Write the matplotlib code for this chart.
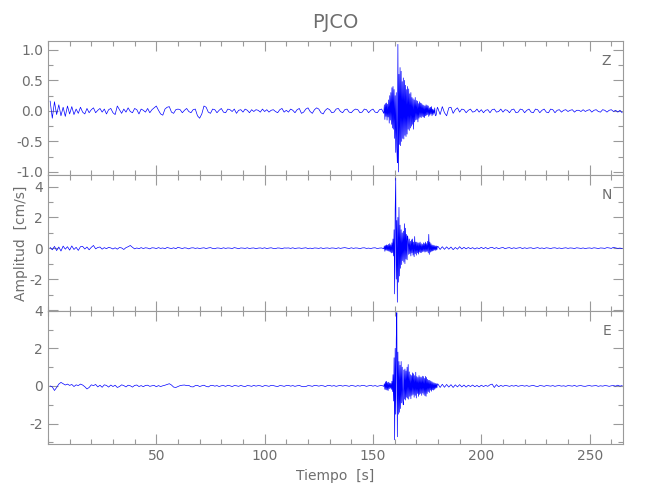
import numpy as np
import matplotlib
matplotlib.use('Agg')
import matplotlib.pyplot as plt
from matplotlib.ticker import MultipleLocator, FixedLocator, FuncFormatter

# amplitudes in units of 0.01 cm/s
# pre: 1 s steps from t=1 ; burst: 0.25 s steps from t=155.25 ; post: 1 s steps from t=180
z_pre = [16, -12, 15, -6, 10, -8, 6, -9, 8, -5,
         7, -6, 3, -4, 6, -2, -5, 4, -3, 2,
         5, -3, 1, 4, -2, 3, -5, 2, 4, -3,
         -6, 8, 2, -4, 3, -2, 5, -1, -3, 4,
         2, -5, 3, 1, -2, 4, -3, 2, 5, 8,
         1, -5, -7, 3, 6, 7, -2, -4, 2, 3,
         2, -3, 1, 4, -1, -3, 2, 3, -8, -12,
         -5, 8, 6, -2, -4, 3, 2, -3, 1, 4,
         -2, -3, 3, 2, -1, 3, -4, 1, 2, -2,
         3, 1, -3, 2, -1, 2, 1, -2, 3, -1,
         2, -2, 1, 2, -1, -3, 2, 4, -2, 1,
         -2, 3, 1, -3, 2, 4, -4, -2, 3, 5,
         -1, -4, 2, 5, 3, -3, -5, 1, 4, 2,
         -3, -2, 3, 4, -1, -3, 2, 3, -2, -3,
         1, 3, 2, -3, -2, 3, 2, -3, 1, 3,
         -2, -3, 2, 3, -4]
z_burst = [10, -14, 12, -9, 13, -15, 11, -10,
           18, -20, 25, -15, 30, -22, 38, -28,
           40, -30, 35, -45,
           25, -68, 30, -60,
           -85, 109, -100, 60,
           -55, 71, -57, 65,
           -50, 48, -45, 54,
           -46, 50, -40, 42,
           -42, 35, -38, 40,
           -30, 36, -32, 28,
           -28, 30, -25, 22,
           -22, 20, -30, 18,
           -18, 22, -15, 17,
           -14, 16, -18, 12,
           -12, 15, -10, 13,
           -11, 12, -9, 10,
           -10, 9, -11, 8,
           -8, 10, -7, 9,
           -6, 8, -9, 5,
           -7, 6, -5, 7,
           -8, 3, -6, 2,
           -4, 5, -7, -8,
           -5, 2, 6]
z_post = [4, -6, 7, -3, -8, 5, 6, -4, 2, 5,
          -2, 3, 2, -3, 1, 3, -2, -1, 3, -2,
          2, -3, 1, 2, -3, 2, 3, -2, -1, 3,
          -2, 2, 1, -3, 2, 3, -3, -2, 3, 2,
          -3, 1, 3, -2, -3, 3, 2, -3, 1, 3,
          -2, -3, 3, 2, -3, 1, 2, -2, 1, 2,
          -1, 1, 2, -2, 1, 1, -1, 2, -1, 1,
          2, -2, 1, 2, -1, -2, 2, 1, -2, 1,
          2, -1, 1, -2, 1, -3]

n_pre = [5, -10, 12, -15, 8, -18, 14, -6, 10, -12,
         15, -8, 6, -14, 10, 12, -5, 8, -10, 6,
         18, -4, 5, 8, -6, 4, -3, 6, 2, -5,
         3, -6, 5, 2, -8, 4, 10, 18, 6, -4,
         2, -3, 4, -2, 3, 1, -4, 3, 2, -2,
         4, -1, 2, -3, 5, 1, -2, 3, -3, 6,
         2, -2, 3, 1, -4, 2, 3, -1, 2, -2,
         1, 3, -2, 2, 4, -1, -3, 2, 1, -2,
         3, -1, 2, 1, -2, 4, 1, -3, 2, 1,
         -1, 3, -2, 1, 2, -3, 1, 2, -1, 3,
         -2, 1, 3, -1, -2, 2, 1, -3, 2, 1,
         2, -1, 3, -2, 1, 2, -1, 1, 3, -2,
         1, -2, 2, 1, -1, 3, -2, 1, 2, -1,
         2, 1, -2, 3, -1, 2, 4, 1, -2, 3,
         -1, 2, 1, -3, 2, 3, -1, 1, -2, 2,
         3, -2, 1, 2, -3]
n_burst = [15, -20, 18, -12, 22, -15, 20, -18,
           25, -20, 30, -25, 22, -30, 35, -28,
           60, -50, 120, -296,
           250, 455, -200, 180,
           -350, 200, -220, 265,
           -180, 150, -130, 120,
           -106, 100, -80, 110,
           -90, 159, -100, 130,
           -70, 90, -75, 80,
           50, -40, 60, -35,
           45, -50, 55, -30,
           60, -45, 40, -55,
           76, -35, 40, -45,
           40, -30, 35, -38,
           35, -25, 40, -28,
           30, -28, 25, -22,
           35, -20, 30, -25,
           40, -22, 30, -20,
           45, -30, 90, -40,
           40, -25, 30, -20,
           22, -18, 20, -15,
           18, -12, 15, -14,
           15, -10, 12]
n_post = [12, -8, 10, -7, 9, -6, 8, -9, 5, -6,
          10, -5, 6, -4, 5, -3, 4, -5, 3, -3,
          6, -3, 5, -4, 3, 6, -2, 4, -3, 2,
          5, -3, 2, 4, -2, 3, -1, 2, 4, -2,
          3, -1, 2, 3, -2, 1, 4, -1, 2, -2,
          3, 1, -2, 2, 3, -1, 2, -2, 1, 3,
          -1, 2, 1, -2, 3, 1, -1, 2, -2, 1,
          2, -1, 3, 1, -2, 2, 1, -1, 4, 2,
          -1, 6, 2, -1, 1, -2]

e_pre = [0, -5, -24, -8, 10, 19, 12, 5, 10, 3,
         8, -3, 6, 2, 10, 5, -4, -16, -8, 6,
         2, 8, -5, 4, -7, 6, 3, -6, 5, -3,
         4, -8, -3, 6, 2, -5, 4, 1, -6, 3,
         5, -3, 2, -4, 3, 4, -2, 1, 3, -4,
         2, -3, 1, 4, 8, 12, 5, -6, -8, -3,
         2, 4, 5, 2, 3, -4, -5, 2, 3, -3,
         1, 4, -2, -5, 2, 3, -1, 2, -3, 1,
         2, -2, 3, 1, -3, 2, 1, -2, 3, -1,
         -3, 2, 1, -2, 3, -1, 2, 1, -3, 2,
         1, -2, 3, 2, -1, -3, 2, 1, -2, 2,
         3, -1, 2, -2, 1, 3, -2, -4, -3, 2,
         1, -2, 3, 2, -1, 2, 1, -3, 2, 3,
         -1, 2, -2, 1, 3, -1, 2, 1, -2, 3,
         1, -2, 2, -1, 3, 2, -2, 1, 3, -1,
         2, -2, 1, 3, -2]
e_burst = [12, -18, 22, -20, 25, -22, 18, -24,
           20, -15, 16, -12, 14, -18, 25, -30,
           60, -80, 150, -286,
           200, -150, 250, 390,
           -270, 180, -150, 130,
           -140, 110, -120, 130,
           -90, 100, -80, -100,
           85, -70, 90, -75,
           80, -60, 100, -65,
           114, -70, 75, -55,
           60, -68, 55, -50,
           70, -45, 65, -60,
           55, -50, 73, -64,
           50, -40, 45, -55,
           55, -45, 48, -40,
           45, -50, 52, -38,
           50, -45, 40, -52,
           51, -55, 45, -40,
           35, -30, 30, -35,
           30, -22, 25, -28,
           22, -20, 18, -22,
           16, -18, 14, -12,
           12, -10, 11]
e_post = [10, -8, 9, -7, 8, -6, 7, -8, 6, -5,
          7, -5, 5, -6, 4, -3, 5, -4, 3, -5,
          4, -3, 3, -2, 6, 10, -8, 7, -4, 3,
          -2, 3, 1, -2, 2, -1, 3, -2, 1, 2,
          -1, 2, -2, 1, 3, -1, -3, 2, 1, -2,
          2, 1, -1, 2, -2, 1, 2, -1, 1, -2,
          2, 1, -1, 3, -2, 1, 2, -1, -2, 1,
          2, -1, 1, 2, -2, 1, -1, 2, 1, -2,
          1, 2, -1, 4, -1, 2]

components = ['Z', 'N', 'E']
ylims = [(-1.05, 1.15), (-4.05, 4.75), (-3.1, 4.0)]
yticks = [[-1.0, -0.5, 0.0, 0.5, 1.0], [-4, -2, 0, 2, 4], [-2, 0, 2, 4]]
yminor = [0.25, 1, 1]
xticks = [50, 100, 150, 200, 250]


def build(pre, burst, post):
    t = np.concatenate([np.arange(1, len(pre) + 1),
                        155 + 0.25 * np.arange(1, len(burst) + 1),
                        180 + np.arange(len(post))])
    v = np.array(pre + burst + post) * 0.01
    return t, v


text_color = '#6e6e6e'
axis_color = '#9a9a9a'

traces = [build(z_pre, z_burst, z_post),
          build(n_pre, n_burst, n_post),
          build(e_pre, e_burst, e_post)]

fig = plt.figure(figsize=(6.5, 5), dpi=100)
left, width = 0.0738, 0.885
bottoms = [0.65, 0.3786, 0.1114]
heights = [0.2686, 0.2714, 0.2672]

axes = []
for i, comp in enumerate(components):
    ax = fig.add_axes([left, bottoms[i], width, heights[i]])
    t, v = traces[i]
    ax.plot(t, v, color='#0000ff', linewidth=0.5)
    ax.set_xlim(0, 265.5)
    ax.set_ylim(*ylims[i])
    ax.xaxis.set_major_locator(FixedLocator(xticks))
    ax.xaxis.set_minor_locator(MultipleLocator(10))
    ax.yaxis.set_major_locator(FixedLocator(yticks[i]))
    ax.yaxis.set_minor_locator(MultipleLocator(yminor[i]))
    ax.tick_params(which='both', direction='in', top=True, right=True,
                   color=axis_color, labelcolor=text_color, labelsize=10, width=0.8)
    ax.tick_params(which='major', length=7)
    ax.tick_params(which='minor', length=3.5)
    for s in ax.spines.values():
        s.set_color(axis_color)
        s.set_linewidth(0.8)
    if i == 0:
        ax.yaxis.set_major_formatter(FuncFormatter(lambda y, p: f'{y:.1f}'))
    elif i == 1:
        # bottom label of the middle panel is hidden under the "4" of the lower one
        ax.yaxis.set_major_formatter(FuncFormatter(lambda y, p: '' if y < -3 else f'{y:.0f}'))
    else:
        ax.yaxis.set_major_formatter(FuncFormatter(lambda y, p: f'{y:.0f}'))
    if i < 2:
        ax.tick_params(labelbottom=False)
    ax.text(0.971, 0.85, comp, transform=ax.transAxes, ha='center', va='center',
            color=text_color, fontsize=10)
    axes.append(ax)

axes[0].set_title('PJCO', color=text_color, fontsize=14, pad=9)
axes[1].set_ylabel('Amplitud  [cm/s]', color=text_color, fontsize=10)
axes[1].yaxis.set_label_coords(-0.035, 0.5)
axes[2].set_xlabel('Tiempo  [s]', color=text_color, fontsize=10, labelpad=4)

fig.savefig('out.png', dpi=100)
